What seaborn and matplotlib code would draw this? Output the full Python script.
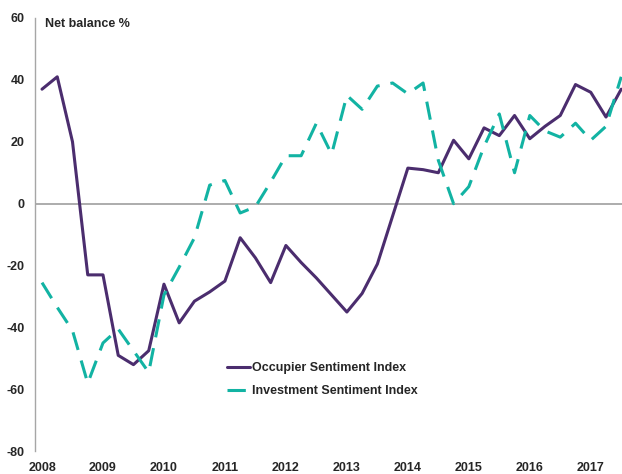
import numpy as np
import pandas as pd
import matplotlib
matplotlib.use('Agg')
import matplotlib.pyplot as plt
import seaborn as sns

# quarterly series, 2008 Q1 .. 2017 Q3
occupier = [37, 41, 20, -23, -23, -49, -52, -47.5, -26, -38.5,
            -31.5, -28.5, -25, -11, -17.5, -25.5, -13.5, -19, -24, -29.5,
            -35, -29, -19.5, -4, 11.5, 11, 10, 20.5, 14.5, 24.5,
            22, 28.5, 21, 25, 28.5, 38.5, 36, 28, 37]
investment = [-25.5, -33.5, -41, -58, -45, -40.5, -47.5, -54.5, -29.5, -20.5,
              -11, 6, 7.5, -3, -1, 7, 15.5, 15.5, 26, 16,
              35, 30.5, 38, 39, 35.5, 39, 14, 0, 5.5, 18.5,
              29, 10, 28.5, 23.5, 21.5, 26, 20.5, 25, 41]
years = ['2008', '2009', '2010', '2011', '2012', '2013', '2014', '2015', '2016', '2017']
yticks = [60, 40, 20, 0, -20, -40, -60, -80]
series_names = ['Occupier Sentiment Index', 'Investment Sentiment Index']

PURPLE = '#4B2D6E'
TEAL = '#12B3A3'
GREY = '#A6A6A6'

df = pd.DataFrame({
    'quarter': list(range(len(occupier))) * 2,
    'value': occupier + investment,
    'series': [series_names[0]] * len(occupier) + [series_names[1]] * len(investment),
})

sns.set_theme(style='white')
plt.rcParams['font.family'] = ['Liberation Sans', 'DejaVu Sans']

W, H = 622, 474
fig = plt.figure(figsize=(W / 100, H / 100), dpi=100)
ax = fig.add_axes([34.7 / W, 22.7 / H, (W - 34.7) / W, 433.3 / H])

sns.lineplot(data=df, x='quarter', y='value', hue='series', style='series',
             palette={series_names[0]: PURPLE, series_names[1]: TEAL},
             dashes={series_names[0]: '', series_names[1]: (6.0, 3.6)},
             linewidth=2.2, ax=ax, legend=False)

ax.axhline(0, color=GREY, lw=1.3, zorder=0)
ax.set_xlim(-0.48, 38.05)
ax.set_ylim(-80, 60)
ax.set_yticks(yticks)
ax.set_yticklabels([str(t) for t in yticks], fontsize=9, fontweight='bold')
ax.set_xticks(range(0, 4 * len(years), 4))
ax.set_xticklabels(years, fontsize=9, fontweight='bold')
ax.tick_params(axis='y', length=0, pad=7)
ax.tick_params(axis='x', length=0, pad=7.5)
ax.set_xlabel('')
ax.set_ylabel('')
for s in ['top', 'right', 'bottom']:
    ax.spines[s].set_visible(False)
ax.spines['left'].set_color(GREY)
ax.spines['left'].set_linewidth(1.0)

fig.text(45 / W, 1 - 24 / H, 'Net balance %', fontsize=9, fontweight='bold',
         va='center', ha='left')

handles = [plt.Line2D([], [], color=PURPLE, lw=2.2),
           plt.Line2D([], [], color=TEAL, lw=2.2, dashes=(6.0, 3.6))]
fig.legend(handles, series_names, loc='upper left',
           bbox_to_anchor=(227 / W, (H - 362) / H),
           frameon=False, borderpad=0, borderaxespad=0,
           handlelength=1.85, handletextpad=0.15, labelspacing=0.9,
           prop={'size': 9, 'weight': 'bold'})

fig.savefig('out.png', dpi=100)
